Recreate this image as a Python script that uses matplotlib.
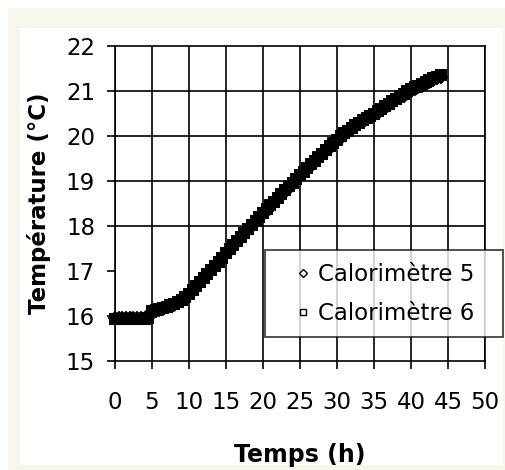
import numpy as np
import matplotlib
matplotlib.use('Agg')
import matplotlib.pyplot as plt
from matplotlib.patches import Rectangle

# temps (h), un relevé toutes les 30 min
temps = np.arange(0, 44.5, 0.5)

calo5 = [15.95, 15.95, 15.95, 15.95, 15.95, 15.95, 15.95, 15.95, 15.95,
         15.96, 16.10, 16.12, 16.14, 16.16, 16.19, 16.22, 16.25, 16.29, 16.34, 16.40,
         16.47, 16.55, 16.64, 16.73, 16.82, 16.91, 17.00, 17.10, 17.19, 17.28,
         17.38, 17.47, 17.56, 17.64, 17.73, 17.82, 17.91, 18.00, 18.08, 18.17,
         18.26, 18.34, 18.43, 18.51, 18.60, 18.68, 18.76, 18.85, 18.93, 19.02,
         19.10, 19.18, 19.26, 19.34, 19.42, 19.50, 19.58, 19.66, 19.74, 19.82,
         19.89, 19.96, 20.03, 20.09, 20.15, 20.21, 20.27, 20.32, 20.37, 20.42,
         20.47, 20.52, 20.57, 20.62, 20.68, 20.73, 20.79, 20.84, 20.90, 20.95,
         21.00, 21.04, 21.08, 21.12, 21.16, 21.20, 21.24, 21.28, 21.32]

calo6 = [15.93, 15.93, 15.93, 15.93, 15.93, 15.93, 15.93, 15.93, 15.93,
         15.95, 16.12, 16.14, 16.16, 16.18, 16.21, 16.24, 16.27, 16.31, 16.36, 16.42,
         16.49, 16.57, 16.66, 16.75, 16.84, 16.93, 17.02, 17.12, 17.21, 17.30,
         17.40, 17.49, 17.58, 17.67, 17.76, 17.85, 17.94, 18.03, 18.11, 18.20,
         18.29, 18.37, 18.46, 18.54, 18.63, 18.71, 18.79, 18.88, 18.96, 19.05,
         19.13, 19.21, 19.29, 19.37, 19.45, 19.53, 19.61, 19.69, 19.77, 19.85,
         19.92, 19.99, 20.06, 20.12, 20.18, 20.24, 20.30, 20.35, 20.40, 20.45,
         20.50, 20.55, 20.61, 20.66, 20.72, 20.77, 20.83, 20.88, 20.94, 20.99,
         21.04, 21.08, 21.12, 21.16, 21.20, 21.24, 21.28, 21.32, 21.36]

xticks = [0, 5, 10, 15, 20, 25, 30, 35, 40, 45, 50]
yticks = [15, 16, 17, 18, 19, 20, 21, 22]
ygrid = [18, 19, 20, 21]

plt.rcParams['font.family'] = ['DejaVu Sans']

W, H = 506, 470
fig = plt.figure(figsize=(W/100, H/100), dpi=100, facecolor='white')
# cadre crème + fond blanc
fig.add_artist(Rectangle((8/W, 0), 1-8/W, 1-8/H, transform=fig.transFigure,
                         facecolor='#f6f6ea', edgecolor='none', zorder=-10))
fig.add_artist(Rectangle((20/W, 5/H), (503-20)/W, (465-28)/H, transform=fig.transFigure,
                         facecolor='white', edgecolor='none', zorder=-9))

ax = fig.add_axes([115/W, (H-361)/H, 370/W, 315/H])
ax.set_facecolor('none')

ax.plot(temps, calo5, linestyle='none', marker='D', markersize=5.8,
        markerfacecolor='black', markeredgecolor='black', markeredgewidth=1.4,
        label='Calorimètre 5', zorder=3, clip_on=False)
ax.plot(temps, calo6, linestyle='none', marker='s', markersize=7.0,
        markerfacecolor='black', markeredgecolor='black', markeredgewidth=1.4,
        label='Calorimètre 6', zorder=3, clip_on=False)

ax.set_xlim(0, 50)
ax.set_ylim(15, 22)
ax.set_xticks(xticks)
ax.set_yticks(yticks)
ax.xaxis.grid(True, color='black', linewidth=1.2)
for yv in ygrid:
    ax.axhline(yv, color='black', linewidth=1.2, zorder=1)
ax.set_axisbelow(True)
for sp in ax.spines.values():
    sp.set_color('black')
    sp.set_linewidth(1.2)

ax.tick_params(axis='both', which='major', direction='out', length=5.8, width=1.2,
               labelsize=16.5, colors='black')
ax.tick_params(axis='x', pad=16)
ax.tick_params(axis='y', pad=8.5)

ax.set_xlabel('Temps (h)', fontsize=17, fontweight='bold', labelpad=21)
ax.set_ylabel('Température (°C)', fontsize=16.5, fontweight='bold', labelpad=11)

leg = ax.legend(loc='upper left', bbox_to_anchor=(265/W, (H-250)/H - 84/H, 238/W, 84/H),
                bbox_transform=fig.transFigure, mode='expand', borderaxespad=0,
                fontsize=16.5, frameon=True, fancybox=False, handlelength=2.22,
                handletextpad=-0.45, borderpad=0.55, labelspacing=0.7)
leg.get_frame().set_edgecolor('black')
leg.get_frame().set_linewidth(1.2)
leg.set_zorder(5)
lh = leg.legend_handles
lh[0].set_markersize(3.6)
lh[1].set_markersize(4.4)
for h in lh:
    h.set_markeredgewidth(1.0)
    h.set_markerfacecolor('white')

fig.savefig('out.png', dpi=100, facecolor=fig.get_facecolor())
